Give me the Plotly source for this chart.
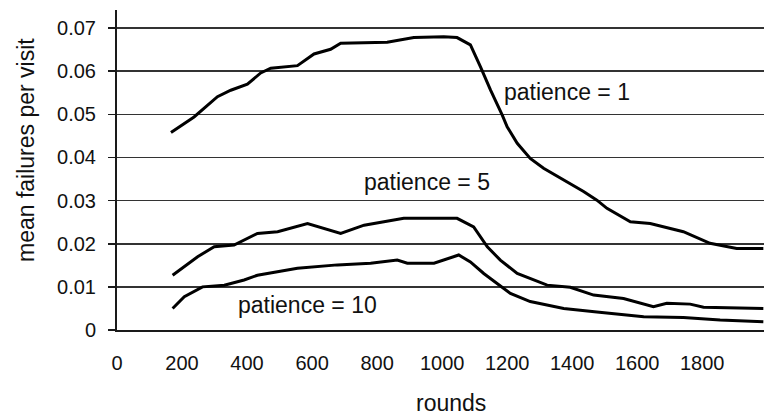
import plotly.graph_objects as go

# ---- data ----
p1_rounds = [166, 237, 309, 350, 401, 442, 473, 555, 606, 657, 688, 831, 913, 1005, 1046,
             1087, 1118, 1149, 1185, 1200, 1231, 1271, 1312, 1374, 1435, 1476, 1507, 1579,
             1640, 1742, 1824, 1906, 1988]
p1_values = [0.0458, 0.0494, 0.0541, 0.0556, 0.0570, 0.0596, 0.0607, 0.0613, 0.0640, 0.0651,
             0.0665, 0.0667, 0.0678, 0.0680, 0.0678, 0.0661, 0.0610, 0.0556, 0.0498, 0.0471,
             0.0433, 0.0398, 0.0375, 0.0348, 0.0321, 0.0301, 0.0282, 0.0251, 0.0247, 0.0228,
             0.0201, 0.0189, 0.0189]

p5_rounds = [171, 248, 299, 360, 432, 494, 586, 688, 760, 882, 964, 1046, 1097, 1139, 1179,
             1231, 1323, 1394, 1466, 1558, 1650, 1691, 1763, 1804, 1988]
p5_values = [0.0127, 0.0170, 0.0193, 0.0197, 0.0224, 0.0228, 0.0247, 0.0224, 0.0243, 0.0259,
             0.0259, 0.0259, 0.0239, 0.0193, 0.0162, 0.0131, 0.0104, 0.0099, 0.0081, 0.0073,
             0.0054, 0.0062, 0.0060, 0.0053, 0.0050]

p10_rounds = [171, 207, 263, 330, 391, 432, 555, 678, 780, 862, 893, 975, 1051, 1087, 1128,
              1169, 1210, 1271, 1374, 1476, 1620, 1742, 1855, 1988]
p10_values = [0.0050, 0.0077, 0.0100, 0.0104, 0.0116, 0.0127, 0.0143, 0.0151, 0.0155, 0.0162,
              0.0155, 0.0155, 0.0174, 0.0158, 0.0131, 0.0108, 0.0085, 0.0066, 0.0050, 0.0042,
              0.0031, 0.0029, 0.0023, 0.0019]

series_names = ["patience = 1", "patience = 5", "patience = 10"]
label_x = [1385, 952, 585]
label_y = [0.0552, 0.0344, 0.0057]

x_tickvals = [0, 200, 400, 600, 800, 1000, 1200, 1400, 1600, 1800]
y_tickvals = [0, 0.01, 0.02, 0.03, 0.04, 0.05, 0.06, 0.07]
y_ticktext = ["0", "0.01", "0.02", "0.03", "0.04", "0.05", "0.06", "0.07"]

FONT = "Liberation Sans, Arial, sans-serif"
INK = "#111111"

fig = go.Figure()
for xs, ys, name in [(p1_rounds, p1_values, series_names[0]),
                     (p5_rounds, p5_values, series_names[1]),
                     (p10_rounds, p10_values, series_names[2])]:
    fig.add_trace(go.Scatter(x=xs, y=ys, mode="lines", name=name,
                             line=dict(color="black", width=3), showlegend=False))

for t, lx, ly in zip(series_names, label_x, label_y):
    fig.add_annotation(x=lx, y=ly, xref="x", yref="y", text=t, showarrow=False,
                       font=dict(family=FONT, size=23, color=INK),
                       xanchor="center", yanchor="middle")

# axis titles
fig.add_annotation(x=0.516, y=-0.228, xref="paper", yref="paper", text="rounds",
                   showarrow=False, font=dict(family=FONT, size=23, color=INK),
                   xanchor="center", yanchor="middle")
fig.add_annotation(x=-0.1406, y=0.5625, xref="paper", yref="paper",
                   text="mean failures per visit", textangle=-90, showarrow=False,
                   font=dict(family=FONT, size=23, color=INK),
                   xanchor="center", yanchor="middle")

fig.update_layout(
    width=764, height=416,
    margin=dict(l=117, r=0, t=10, b=86),
    paper_bgcolor="white", plot_bgcolor="white",
    font=dict(family=FONT, size=20, color=INK),
)
fig.update_xaxes(range=[0, 1990], tickvals=x_tickvals, showgrid=False, zeroline=False,
                 showline=True, linecolor="#1a1a1a", linewidth=2, ticks="",
                 ticklabelstandoff=14, tickfont=dict(family=FONT, size=20, color=INK))
fig.update_yaxes(range=[0, 0.0742], tickvals=y_tickvals, ticktext=y_ticktext,
                 showgrid=True, gridcolor="#333333", gridwidth=1.5, zeroline=False,
                 showline=True, linecolor="#1a1a1a", linewidth=2, ticks="outside",
                 ticklen=7, tickwidth=1.5, tickcolor="#1a1a1a", ticklabelstandoff=8,
                 tickfont=dict(family=FONT, size=20, color=INK))

fig.write_html(
    "out.html",
    config={"displayModeBar": False, "staticPlot": True},
    post_script="document.body.style.margin='0px';document.body.style.overflow='hidden';",
)
